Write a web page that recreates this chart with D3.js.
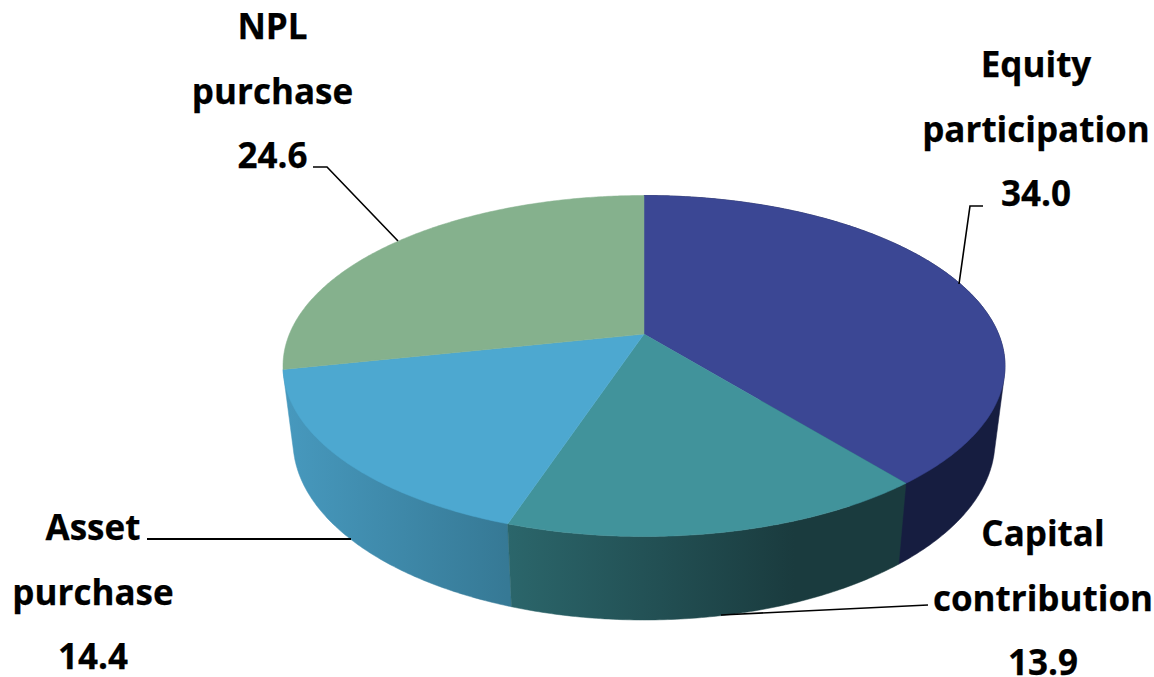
<!DOCTYPE html>
<html>
<head>
<meta charset="utf-8">
<script src="https://cdn.jsdelivr.net/npm/d3@7/dist/d3.min.js"></script>
<style>
html,body{margin:0;padding:0;background:#fff;}
svg{display:block;}
text{font-family:"Open Sans","Noto Sans",sans-serif;font-weight:700;font-size:35px;fill:#000;stroke:#000;stroke-width:0.25px;}
</style>
</head>
<body>
<svg id="chart" width="1154" height="677"></svg>
<script>
const categories = ["Equity participation", "Capital contribution", "Asset purchase", "NPL purchase"];
const seriesValues = [34.0, 13.9, 14.4, 24.6];
const labelLines = [["Equity", "participation", "34.0"], ["Capital", "contribution", "13.9"], ["Asset", "purchase", "14.4"], ["NPL", "purchase", "24.6"]];

const topColors = ["#3b4794", "#41939b", "#4da8d0", "#85b18d"];
const wallStops = [
  [[0, "#161d40"], [1, "#161d40"]],
  [[0, "#2b666b"], [0.72, "#1a3b3e"], [1, "#1a3b3e"]],
  [[0, "#4799be"], [1, "#367995"]],
  [[0, "#5f8065"], [1, "#5f8065"]]
];
const labelAnchors = [[1036, 77], [1043, 546], [93, 540], [272.5, 39]];
const lineGap = 64.5;
const leaders = [
  [[983, 206], [970, 206], [959, 284]],
  [[928, 605], [721, 615]],
  [[147, 539], [351, 539]],
  [[313, 167], [327, 167], [398, 241]]
];

const W = 1154, H = 677;
const topEllipse = {cx: 644, cy: 366, rx: 361, ry: 170.5};
const baseEllipse = {cx: 644, cy: 441, rx: 351, ry: 179};
const k = -0.187; // perspective of the tilted disc

function project(e, a) {
  const u = Math.sin(a), v = -Math.cos(a), d = 1 + k * v;
  return [e.cx + e.rx * Math.sqrt(1 - k * k) * u / d, e.cy + e.ry * (v + k) / d];
}
function arcPoints(e, a0, a1) {
  const n = Math.max(2, Math.ceil((a1 - a0) / 0.01));
  return d3.range(n + 1).map(i => project(e, a0 + (a1 - a0) * i / n));
}

const arcs = d3.pie().sort(null).startAngle(0).endAngle(2 * Math.PI)(seriesValues);
const svg = d3.select("#chart");
const line = d3.line();
const defs = svg.append("defs");

arcs.forEach((d, i) => {
  const xs = arcPoints(topEllipse, d.startAngle, d.endAngle).map(p => p[0]);
  const g = defs.append("linearGradient").attr("id", "wall" + i)
    .attr("gradientUnits", "userSpaceOnUse")
    .attr("x1", d3.min(xs)).attr("x2", d3.max(xs)).attr("y1", 0).attr("y2", 0);
  wallStops[i].forEach(s => g.append("stop").attr("offset", s[0]).attr("stop-color", s[1]));
});

// side walls: back to front; the walls holding the outer edge use the hull so the silhouette is straight
const wallOrder = [0, 2, 1];
wallOrder.forEach(i => {
  const d = arcs[i];
  const t = arcPoints(topEllipse, d.startAngle, d.endAngle);
  const b = arcPoints(baseEllipse, d.startAngle, d.endAngle);
  const pts = i === 1 ? t.concat(b.slice().reverse()) : d3.polygonHull(t.concat(b));
  svg.append("path").attr("d", line(pts) + "Z")
    .attr("fill", "url(#wall" + i + ")")
    .attr("stroke", "url(#wall" + i + ")").attr("stroke-width", 0.5);
});

// top faces
const apex = [topEllipse.cx, topEllipse.cy + topEllipse.ry * k];
arcs.forEach((d, i) => {
  svg.append("path")
    .attr("d", line([apex].concat(arcPoints(topEllipse, d.startAngle, d.endAngle))) + "Z")
    .attr("fill", topColors[i]).attr("stroke", topColors[i]).attr("stroke-width", 0.5);
});

// leader lines
leaders.forEach((pts, i) => {
  svg.append("path").attr("d", line(pts)).attr("fill", "none")
    .attr("stroke", "#000").attr("stroke-width", i === 2 ? 2 : 1.6);
});

// labels
labelLines.forEach((lines, i) => {
  lines.forEach((s, j) => {
    svg.append("text").attr("x", labelAnchors[i][0]).attr("y", labelAnchors[i][1] + j * lineGap)
      .attr("text-anchor", "middle").text(s);
  });
});
</script>
</body>
</html>
